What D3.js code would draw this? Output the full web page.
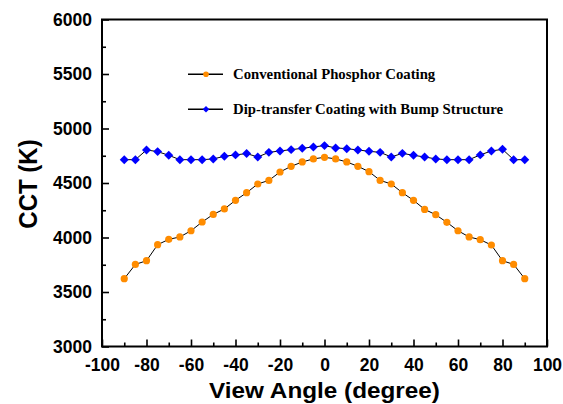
<!DOCTYPE html>
<html><head><meta charset="utf-8">
<script src="https://cdn.jsdelivr.net/npm/d3@7"></script>
<style>
html,body{margin:0;padding:0;background:#fff;}
svg{display:block;}
</style></head>
<body>
<svg id="chart" width="563" height="404"></svg>
<script>
const angles = [-90,-85,-80,-75,-70,-65,-60,-55,-50,-45,-40,-35,-30,-25,-20,-15,-10,-5,0,5,10,15,20,25,30,35,40,45,50,55,60,65,70,75,80,85,90];
const conventional = [3622,3753,3787,3934,3983,4005,4062,4142,4212,4262,4341,4411,4491,4524,4601,4653,4693,4721,4736,4721,4693,4653,4604,4524,4491,4411,4341,4258,4209,4139,4062,4005,3980,3931,3787,3753,3622];
const dipTransfer = [4714,4714,4803,4788,4754,4714,4714,4714,4721,4745,4758,4770,4739,4781,4794,4806,4818,4831,4843,4822,4815,4803,4791,4781,4739,4772,4754,4739,4721,4714,4714,4714,4758,4794,4809,4714,4714];
const seriesNames = ["Conventional Phosphor Coating","Dip-transfer Coating with Bump Structure"];
const xTicks = [-100,-80,-60,-40,-20,0,20,40,60,80,100];
const xMinorTicks = [-90,-70,-50,-30,-10,10,30,50,70,90];
const yTicks = [3000,3500,4000,4500,5000,5500,6000];
const yMinorTicks = [3250,3750,4250,4750,5250,5750];

const svg = d3.select("#chart");
const L = 102, R = 547, T = 19.5, B = 346.5;
const x = d3.scaleLinear().domain([-100,100]).range([L,R]);
const y = d3.scaleLinear().domain([3000,6000]).range([B,T]);

const tickFont = "'Liberation Sans', Arial, sans-serif";
const fmt = d => String(d);

// minor ticks
svg.append("g").attr("transform",`translate(0,${B})`)
  .call(d3.axisBottom(x).tickValues(xMinorTicks).tickSize(-4).tickFormat(""))
  .call(g=>{g.select(".domain").remove(); g.selectAll("line").attr("stroke","#000").attr("stroke-width",1.6);});
svg.append("g").attr("transform",`translate(${L},0)`)
  .call(d3.axisLeft(y).tickValues(yMinorTicks).tickSize(-4).tickFormat(""))
  .call(g=>{g.select(".domain").remove(); g.selectAll("line").attr("stroke","#000").attr("stroke-width",1.6);});

// major ticks
svg.append("g").attr("transform",`translate(0,${B})`)
  .call(d3.axisBottom(x).tickValues(xTicks).tickSize(-7).tickPadding(12).tickFormat(fmt))
  .call(g=>{g.select(".domain").remove();
    g.selectAll("line").attr("stroke","#000").attr("stroke-width",1.6);
    g.selectAll("text").attr("fill","#000").style("font-family",tickFont).style("font-weight","bold").style("font-size","17.5px");});
svg.append("g").attr("transform",`translate(${L},0)`)
  .call(d3.axisLeft(y).tickValues(yTicks).tickSize(-7).tickPadding(17).tickFormat(fmt))
  .call(g=>{g.select(".domain").remove();
    g.selectAll("line").attr("stroke","#000").attr("stroke-width",1.6);
    g.selectAll("text").attr("fill","#000").attr("dx","7").style("font-family",tickFont).style("font-weight","bold").style("font-size","17.5px");});

// frame
svg.append("rect").attr("x",L).attr("y",T).attr("width",R-L).attr("height",B-T)
  .attr("fill","none").attr("stroke","#000").attr("stroke-width",2);

// axis titles
svg.append("text").attr("transform",`translate(${(L+R)/2},397.5) scale(1.08,1)`).attr("text-anchor","middle")
  .style("font-family",tickFont).style("font-weight","bold").style("font-size","22.5px").text("View Angle (degree)");
svg.append("text").attr("transform",`translate(36.5,${(T+B)/2 + 1}) rotate(-90) scale(1,1.1)`).attr("text-anchor","middle")
  .style("font-family",tickFont).style("font-weight","bold").style("font-size","24px").text("CCT (K)");

// lines
const line = d3.line().x((d,i)=>x(angles[i])).y(d=>y(d));
svg.append("path").datum(conventional).attr("d",line).attr("fill","none").attr("stroke","#000").attr("stroke-width",1);
svg.append("path").datum(dipTransfer).attr("d",line).attr("fill","none").attr("stroke","#000").attr("stroke-width",1);

const orange = "#ff8c00", blue = "#0000ff";
svg.append("g").selectAll("circle").data(conventional).join("circle")
  .attr("cx",(d,i)=>x(angles[i])).attr("cy",d=>y(d)).attr("r",3.6).attr("fill",orange);
const diamond = d3.symbol().type(d3.symbolSquare).size(40);
svg.append("g").selectAll("path").data(dipTransfer).join("path")
  .attr("d",diamond).attr("fill",blue)
  .attr("transform",(d,i)=>`translate(${x(angles[i])},${y(d)}) rotate(45)`);

// legend
const legY = [74.3,109.3];
const lg = svg.append("g");
seriesNames.forEach((name,i)=>{
  lg.append("line").attr("x1",188).attr("x2",223).attr("y1",legY[i]).attr("y2",legY[i]).attr("stroke","#000").attr("stroke-width",1.4);
  if(i===0){
    lg.append("circle").attr("cx",206).attr("cy",legY[i]).attr("r",2.8).attr("fill",orange);
  } else {
    lg.append("path").attr("d",d3.symbol().type(d3.symbolSquare).size(22)).attr("fill",blue)
      .attr("transform",`translate(206,${legY[i]}) rotate(45)`);
  }
  lg.append("text").attr("transform",`translate(233,${legY[i]+4.7}) scale(1.07,1)`)
    .style("font-family","'Liberation Serif','Times New Roman',serif").style("font-weight","bold").style("font-size","13.8px")
    .text(name);
});
</script>
</body></html>
